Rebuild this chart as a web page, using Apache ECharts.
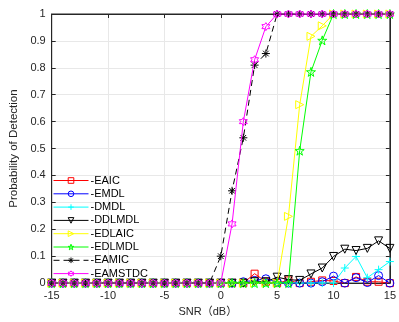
<!DOCTYPE html>
<html><head><meta charset="utf-8">
<script src="https://cdn.jsdelivr.net/npm/echarts@6/dist/echarts.min.js"></script>
<style>html,body{margin:0;padding:0;background:#fff}#c{width:399px;height:322px}</style>
</head><body><div id="c"></div>
<script>
const snr = [-15,-14,-13,-12,-11,-10,-9,-8,-7,-6,-5,-4,-3,-2,-1,0,1,2,3,4,5,6,7,8,9,10,11,12,13,14,15];
const EAIC    = [0,0,0,0,0,0,0,0,0,0,0,0,0,0,0,0,0,0,0.035,0.005,0,0.01,0,0.005,0.01,0.008,0,0.023,0.005,0.005,0];
const EMDL    = [0,0,0,0,0,0,0,0,0,0,0,0,0,0,0,0,0,0.005,0.01,0.016,0.005,0,0,0,0.005,0.026,0,0.02,0.002,0.028,0];
const DMDL    = [0,0,0,0,0,0,0,0,0,0,0,0,0,0,0,0,0,0,0,0,0,0,0,0,0,0,0.056,0.099,0.02,0.05,0.08];
const DDLMDL  = [0,0,0,0,0,0,0,0,0,0,0,0,0,0,0,0,0,0,0.005,0.005,0.022,0.013,0.01,0.034,0.056,0.099,0.126,0.121,0.129,0.157,0.129];
const EDLAIC  = [0,0,0,0,0,0,0,0,0,0,0,0,0,0,0,0,0,0,0,0,0,0.248,0.663,0.917,0.956,1,1,1,1,1,1];
const EDLMDL  = [0,0,0,0,0,0,0,0,0,0,0,0,0,0,0,0,0,0,0,0,0,0,0.492,0.785,0.902,1,1,1,1,1,1];
const EAMIC   = [0,0,0,0,0,0,0,0,0,0,0,0,0,0,0,0.10,0.343,0.54,0.81,0.853,1,1,1,1,1,1,1,1,1,1,1];
const EAMSTDC = [0,0,0,0,0,0,0,0,0,0,0,0,0,0,0,0,0.22,0.60,0.83,0.953,1,1,1,1,1,1,1,1,1,1,1];
const names = ['-EAIC','-EMDL','-DMDL','-DDLMDL','-EDLAIC','-EDLMDL','-EAMIC','-EAMSTDC'];

const SYM = {
  square: 'path://M0,0H10V10H0Z',
  circle: 'path://M10,5A5,5,0,1,1,0,5A5,5,0,1,1,10,5Z',
  plus: 'path://M5,0V10M0,5H10',
  triDown: 'path://M0,0H10L5,9Z',
  triRight: 'path://M0,0L9,5L0,10Z',
  star: 'path://M5,0L6.123,3.455L9.755,3.455L6.817,5.59L7.939,9.045L5,6.91L2.061,9.045L3.183,5.59L0.245,3.455L3.877,3.455Z',
  hexa: 'path://M5,0L6.443,2.5L9.33,2.5L7.887,5L9.33,7.5L6.443,7.5L5,10L3.557,7.5L0.67,7.5L2.113,5L0.67,2.5L3.557,2.5Z',
  aster: 'path://M5,0V10M0,5H10M1.5,1.5L8.5,8.5M8.5,1.5L1.5,8.5'
};
const defs = [
  [EAIC, '#ff0000', SYM.square, 7, 'solid'],
  [EMDL, '#0000ff', SYM.circle, 8, 'solid'],
  [DMDL, '#00ffff', SYM.plus, 8, 'solid'],
  [DDLMDL, '#000000', SYM.triDown, 8, 'solid'],
  [EDLAIC, '#ffff00', SYM.triRight, 8, 'solid'],
  [EDLMDL, '#00ff00', SYM.star, 9, 'solid'],
  [EAMIC, '#000000', SYM.aster, 8, [6,4]],
  [EAMSTDC, '#ff00ff', SYM.hexa, 8, 'solid']
];
const series = defs.map((d, i) => ({
  name: names[i], type: 'line',
  data: snr.map((x, j) => [x, d[0][j]]),
  symbol: d[2], symbolSize: d[3], showSymbol: true,
  lineStyle: { color: d[1], width: 1, type: d[4] },
  itemStyle: { color: 'none', borderColor: d[1], borderWidth: 1 },
  emphasis: { disabled: true },
  z: 2 + i
}));

const font = 'Liberation Sans, Arial, Noto Sans CJK SC, sans-serif';
const axisCol = '#262626';
const chart = echarts.init(document.getElementById('c'), null, { renderer: 'canvas' });
chart.setOption({
  animation: false,
  backgroundColor: '#fff',
  grid: { left: 44, right: 5, top: 14, bottom: 35, show: true, borderColor: axisCol, borderWidth: 1, backgroundColor: 'transparent' },
  legend: {
    orient: 'vertical', left: 53, top: 175, padding: 0,
    itemWidth: 35, itemHeight: 7, itemGap: 2.3,
    textStyle: { fontFamily: font, fontSize: 11, lineHeight: 11, color: '#000', padding: [0,0,0,-3] },
    data: defs.map((d, i) => ({
      name: names[i],
      itemStyle: { color: 'transparent', borderColor: d[1], borderWidth: 1 },
      lineStyle: { color: d[1], width: 1, type: d[4] }
    }))
  },
  xAxis: [{
    type: 'value', min: -15, max: 15, interval: 5,
    name: 'SNR（dB）', nameLocation: 'middle', nameGap: 19,
    nameTextStyle: { fontFamily: font, fontSize: 11, color: axisCol, padding: [0, 26, 0, 0] },
    axisLine: { onZero: false, lineStyle: { color: axisCol } },
    axisTick: { inside: true, length: 4, lineStyle: { color: axisCol } },
    axisLabel: { fontFamily: font, fontSize: 11, color: axisCol, margin: 7 },
    splitLine: { show: true, lineStyle: { color: '#e8e8e8' } }
  }, {
    type: 'value', min: -15, max: 15, interval: 5, position: 'top',
    axisLine: { show: true, onZero: false, lineStyle: { color: axisCol } },
    axisTick: { inside: true, length: 4, lineStyle: { color: axisCol } },
    axisLabel: { show: false }, splitLine: { show: false }
  }],
  yAxis: [{
    type: 'value', min: 0, max: 1, interval: 0.1,
    name: 'Probability of Detection', nameLocation: 'middle', nameGap: 30,
    nameTextStyle: { fontFamily: font, fontSize: 11.5, color: axisCol },
    axisLine: { show: true, onZero: false, lineStyle: { color: axisCol } },
    axisTick: { show: true, inside: true, length: 4, lineStyle: { color: axisCol } },
    axisLabel: { fontFamily: font, fontSize: 11, color: axisCol, margin: 6 },
    splitLine: { show: true, lineStyle: { color: '#e8e8e8' } }
  }, {
    type: 'value', min: 0, max: 1, interval: 0.1, position: 'right',
    axisLine: { show: true, onZero: false, lineStyle: { color: axisCol } },
    axisTick: { show: true, inside: true, length: 4, lineStyle: { color: axisCol } },
    axisLabel: { show: false }, splitLine: { show: false }
  }],
  series: series
});
</script></body></html>
